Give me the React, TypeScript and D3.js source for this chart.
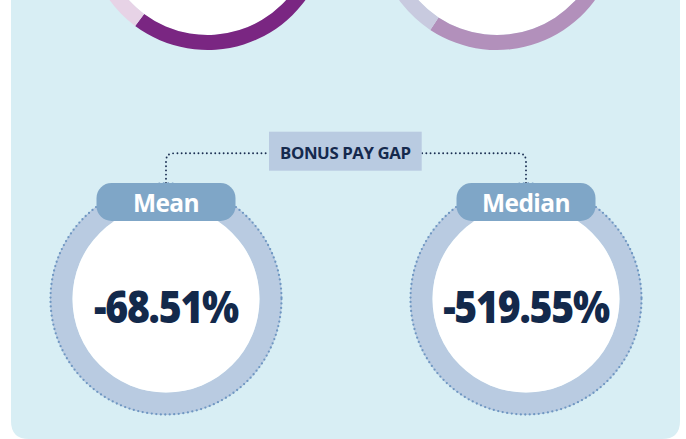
import React from "react";
import * as d3 from "d3";

// Top (cropped) donuts: share of the ring in the strong colour vs the pale colour
const topDonutNames = ["Left donut", "Right donut"];
const topDonutStrong = [60.2, 59.3];
const topDonutPale = [39.8, 40.7];

// Bonus pay gap
const bonusTitle = "BONUS PAY GAP";
const bonusLabels = ["Mean", "Median"];
const bonusValues = [-68.51, -519.55];

const W = 686;
const H = 439;

const topColors = [
  ["#7a2682", "#e7d3e6"],
  ["#b290bb", "#c8cadf"],
];

export default function App() {
  const x = d3.scalePoint<string>().domain(bonusLabels).range([166, 526]);
  const xTop = d3.scalePoint<string>().domain(topDonutNames).range([207.5, 497]);
  const pie = d3.pie<number>().sort(null).value((d) => d);
  const topArc = d3.arc<d3.PieArcDatum<number>>().innerRadius(106).outerRadius(121);
  const ringArc = d3.arc<any>()({
    innerRadius: 93.5,
    outerRadius: 116,
    startAngle: 0,
    endAngle: Math.PI * 2,
  } as any);
  const cy = 299;
  const lineY = 153.3;
  const boxX0 = 269;
  const boxX1 = 421.7;
  const fmt = (v: number) => d3.format(".2f")(v).replace("\u2212", "-") + "%";

  const connector = (cx: number, side: number) => {
    const p = d3.path();
    const r = 8;
    p.moveTo(cx, 183);
    p.lineTo(cx, lineY + r);
    p.quadraticCurveTo(cx, lineY, cx - side * r, lineY);
    p.lineTo(side < 0 ? boxX0 : boxX1, lineY);
    return p.toString();
  };

  return (
    <svg
      width={W}
      height={H}
      style={{ position: "absolute", left: 0, top: 0 }}
      fontFamily="'Open Sans', sans-serif"
    >
      <rect width={W} height={H} fill="#ffffff" />
      <path
        d={`M11,-40 H680 V${H - 18} Q680,${H} 662,${H} H29 Q11,${H} 11,${H - 18} Z`}
        fill="#d8eef4"
      />
      {topDonutNames.map((n, i) => {
        const arcs = pie([topDonutStrong[i], topDonutPale[i]]);
        return (
          <g key={n} transform={`translate(${xTop(n)},-71)`}>
            <circle r={106} fill="#ffffff" />
            {arcs.map((a, j) => (
              <path key={j} d={topArc(a) || ""} fill={topColors[i][j]} />
            ))}
          </g>
        );
      })}

      {/* connector */}
      <path
        d={connector(x("Mean")!, -1)}
        fill="none"
        stroke="#1b2f52"
        strokeWidth={1.9}
        strokeLinecap="round"
        strokeDasharray="0 4.2"
      />
      <path
        d={connector(x("Median")!, 1)}
        fill="none"
        stroke="#1b2f52"
        strokeWidth={1.9}
        strokeLinecap="round"
        strokeDasharray="0 4.2"
      />
      <rect x={boxX0} y={131.7} width={boxX1 - boxX0} height={39} fill="#b9cbe1" />
      <text
        x={(boxX0 + boxX1) / 2}
        y={158.5}
        textAnchor="middle"
        fontSize={16.8}
        fontWeight={700}
        fill="#15294d"
        letterSpacing={-0.4}
      >
        {bonusTitle}
      </text>

      {bonusLabels.map((lab, i) => {
        const cx = x(lab)!;
        return (
          <g key={lab} transform={`translate(${cx},${cy})`}>
            <path d={ringArc || ""} fill="#b9cbe1" />
            <circle r={93.5} fill="#ffffff" />
            <circle
              r={115.5}
              fill="none"
              stroke="#6f97c2"
              strokeWidth={2.3}
              strokeLinecap="round"
              strokeDasharray="0 4.55"
            />
            <rect x={-69.5} y={-116} width={139} height={38} rx={15} fill="#7fa6c7" />
            <text
              y={-87.3}
              textAnchor="middle"
              fontSize={24.5}
              fontWeight={700}
              fill="#ffffff"
              letterSpacing={-0.6}
            >
              {lab}
            </text>
            <g transform="translate(0,23.5) scale(0.88,1)">
              <text
                textAnchor="middle"
                fontSize={44.5}
                fontWeight={800}
                fill="#13294b"
                letterSpacing={-1.4}
              >
                {fmt(bonusValues[i])}
              </text>
            </g>
          </g>
        );
      })}
    </svg>
  );
}
